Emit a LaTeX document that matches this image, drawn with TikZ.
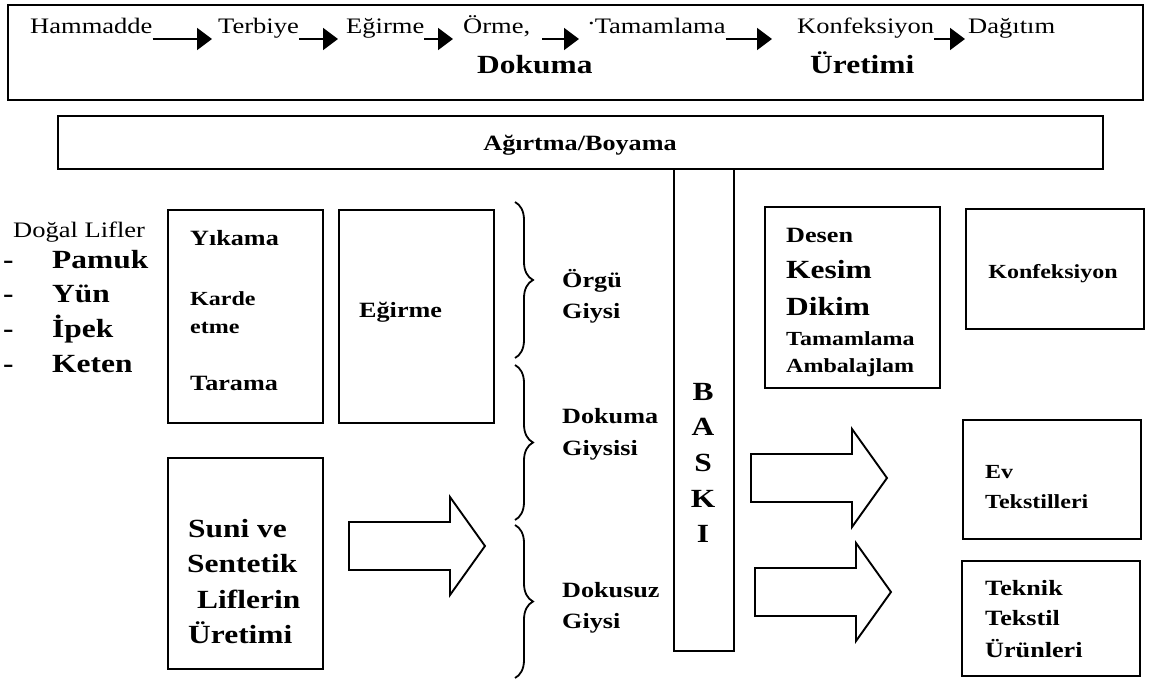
\documentclass[tikz,border=0pt]{standalone}
\usepackage{fontspec}
\setmainfont{Liberation Serif}[FakeStretch=1.2]
\usetikzlibrary{arrows.meta,decorations.pathreplacing}
\tikzset{
  panel/.style={draw, line width=1.9pt, inner sep=0pt, anchor=north west},
  rowtxt/.style={inner sep=0pt, anchor=base west, font=\fontsize{22.1}{26}\selectfont},
  smalltxt/.style={inner sep=0pt, anchor=base west, font=\bfseries\fontsize{20}{24}\selectfont},
  midtxt/.style={inner sep=0pt, anchor=base west, font=\bfseries\fontsize{21.8}{26}\selectfont},
  bigtxt/.style={inner sep=0pt, anchor=base west, font=\bfseries\fontsize{26.2}{31}\selectfont},
  flow/.style={line width=1.9pt, -{Triangle[length=15pt,width=22pt]}},
  curly/.style={decorate, decoration={brace, amplitude=18pt}, line width=1.8pt},
  fatarrow/.style={line width=1.9pt, line join=miter}
}
\begin{document}
\begin{tikzpicture}[x=1pt,y=-1pt]
\useasboundingbox (0,0) rectangle (1149,682);
\node[panel, minimum width=1135, minimum height=95] (chain) at (7,4) {};
\node[rowtxt] (ham) at (30,34) {Hammadde};
\node[rowtxt] (ter) at (218,34) {Terbiye};
\node[rowtxt] (egr) at (346,34) {Eğirme};
\node[rowtxt] (orm) at (463,34) {Örme,};
\node[rowtxt] (tam) at (588,34) {\raisebox{9pt}{.}Tamamlama};
\node[rowtxt] (kon) at (797,34) {Konfeksiyon};
\node[rowtxt] (dag) at (968,34) {Dağıtım};
\node[bigtxt] (dok) at (477,74) {Dokuma};
\node[bigtxt] (ure) at (810,74) {Üretimi};
\draw[flow, shorten >=6pt] ([yshift=-5pt]ham.base east) -- ([yshift=-5pt]ter.base west);
\draw[flow, shorten >=8pt] ([yshift=-5pt]ter.base east) -- ([yshift=-5pt]egr.base west);
\draw[flow, shorten >=10pt] ([yshift=-5pt]egr.base east) -- ([yshift=-5pt]orm.base west);
\draw[flow, shorten <=12pt, shorten >=9pt] ([yshift=-5pt]orm.base east) -- ([yshift=-5pt]tam.base west);
\draw[flow, shorten >=25pt] ([yshift=-5pt]tam.base east) -- ([yshift=-5pt]kon.base west);
\draw[flow, shorten >=3pt] ([yshift=-5pt]kon.base east) -- ([yshift=-5pt]dag.base west);

\node[panel, minimum width=1045, minimum height=53] (dye) at (57,115) {};
\node[midtxt, anchor=base] (dyetxt) at (580,151) {Ağırtma/Boyama};

\node[rowtxt] (natural) at (13,237) {Doğal Lifler};
\foreach \w [count=\row] in {Pamuk,Yün,İpek,Keten}
{
  \node[bigtxt] (dash\row) at (3,{268+34.7*(\row-1)}) {-};
  \node[bigtxt] (fiber\row) at (52,{268+34.7*(\row-1)}) {\w};
}

\node[panel, minimum width=155, minimum height=213] (wash) at (167,209) {};
\node[midtxt] (washa) at (190,245) {Yıkama};
\node[smalltxt] (washb) at (190,305) {Karde};
\node[smalltxt] (washc) at (190,333) {etme};
\node[midtxt] (washd) at (190,390) {Tarama};

\node[panel, minimum width=155, minimum height=213] (spin) at (338,209) {};
\node[midtxt] (spintxt) at (359,317) {Eğirme};

\node[panel, minimum width=155, minimum height=211] (synth) at (167,457) {};
\node[bigtxt] (syntha) at (188,537) {Suni ve};
\node[bigtxt] (synthb) at (187,572) {Sentetik};
\node[bigtxt] (synthc) at (197,608) {Liflerin};
\node[bigtxt] (synthd) at (188,643) {Üretimi};

\draw[curly] (515,202) -- (515,358);
\draw[curly] (515,365) -- (515,520);
\draw[curly] (515,525) -- (515,678);
\node[midtxt] (knita) at (562,287) {Örgü};
\node[midtxt] (knitb) at (562,318) {Giysi};
\node[midtxt] (wovea) at (562,423) {Dokuma};
\node[midtxt] (woveb) at (562,455) {Giysisi};
\node[midtxt] (nonwa) at (562,597) {Dokusuz};
\node[midtxt] (nonwb) at (562,628) {Giysi};

\node[panel, minimum width=60, minimum height=482] (print) at (673,168) {};
\foreach \ltr [count=\row] in {B,A,S,K,I}
  \node[bigtxt, anchor=base] (print\row) at (703,{400+35.7*(\row-1)}) {\ltr};

\node[panel, minimum width=175, minimum height=181] (cut) at (764,206) {};
\node[midtxt] (cuta) at (786,242) {Desen};
\node[bigtxt] (cutb) at (786,278) {Kesim};
\node[bigtxt] (cutc) at (786,315) {Dikim};
\node[smalltxt] (cutd) at (786,345) {Tamamlama};
\node[smalltxt] (cute) at (786,372) {Ambalajlam};

\node[panel, minimum width=178, minimum height=120] (garment) at (965,208) {};
\node[smalltxt, anchor=base] (garmtxt) at (1053,278) {Konfeksiyon};

\node[panel, minimum width=178, minimum height=119] (home) at (962,419) {};
\node[smalltxt] (homea) at (985,478) {Ev};
\node[smalltxt] (homeb) at (985,508) {Tekstilleri};

\node[panel, minimum width=178, minimum height=115] (tech) at (961,560) {};
\node[midtxt] (techa) at (985,595) {Teknik};
\node[midtxt] (techb) at (985,625) {Tekstil};
\node[midtxt] (techc) at (985,657) {Ürünleri};

\foreach \x/\y in {349/546,751/478,755/592}
  \draw[fatarrow] (\x,\y-24) -- ++(101,0) -- ++(0,-25) -- ++(35,49) -- ++(-35,49) -- ++(0,-25) -- ++(-101,0) -- cycle;
\end{tikzpicture}
\end{document}
